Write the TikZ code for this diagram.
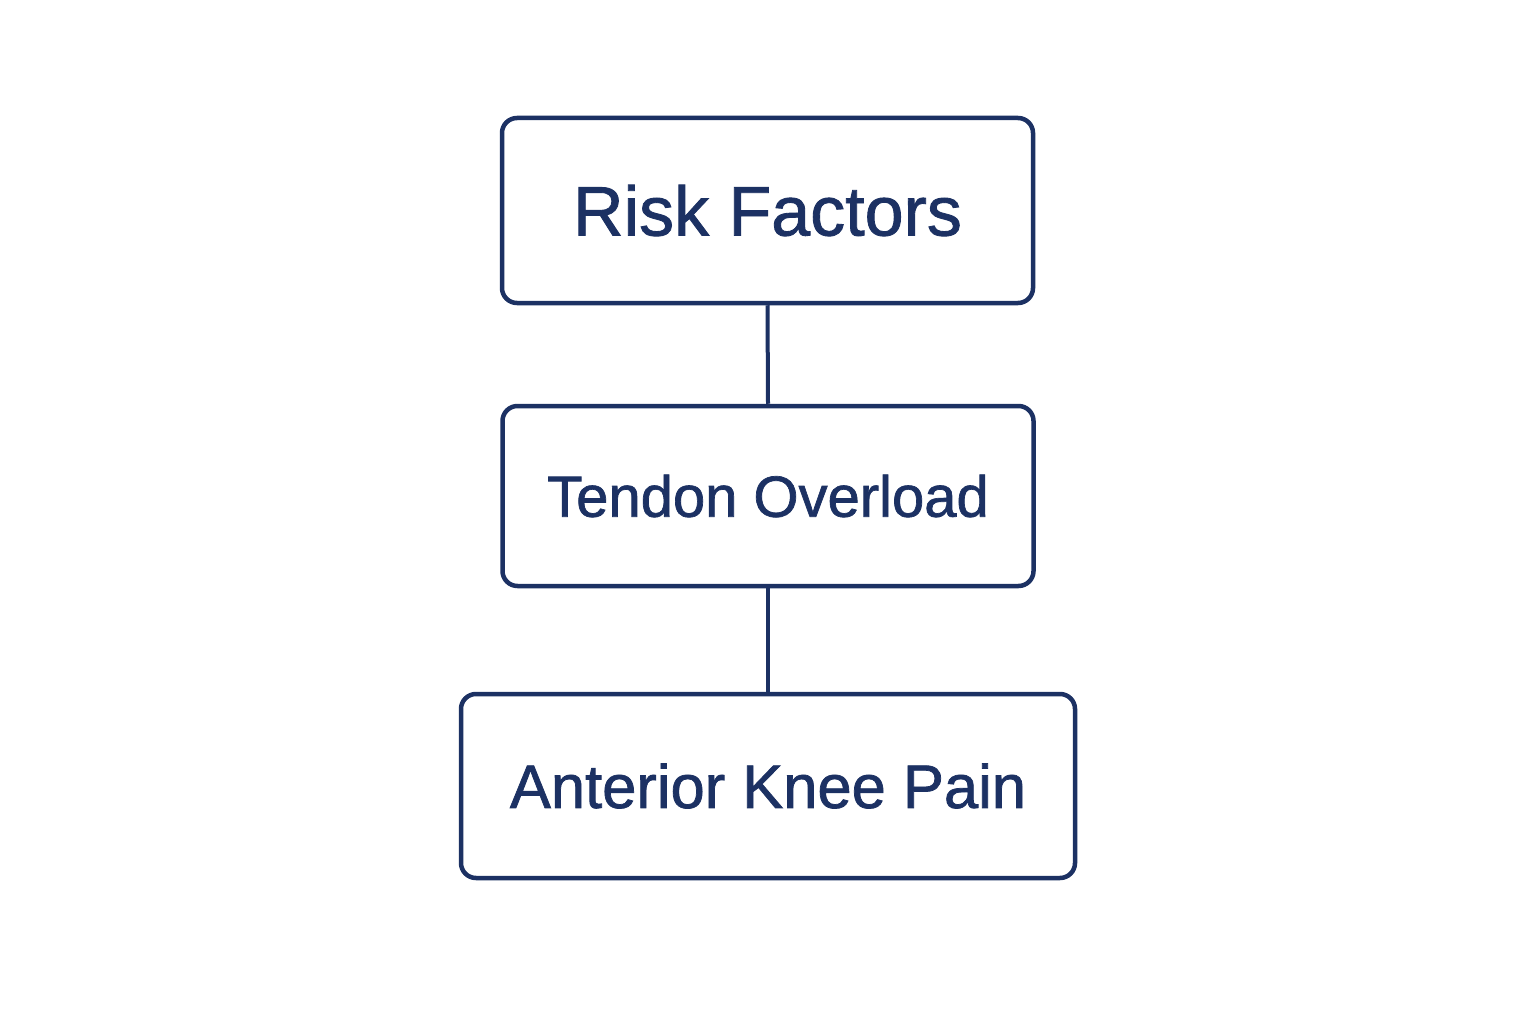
\documentclass[tikz,border=0pt]{standalone}
\usepackage{fontspec}
\setmainfont{Liberation Sans}
\newfontfamily\medfont[FakeBold=1.2]{Liberation Sans}
\definecolor{navy}{HTML}{1C3163}
\tikzset{
  box/.style={draw=navy, line width=4.5pt, rounded corners=15pt, text=navy, inner sep=0pt, align=center},
  link/.style={draw=navy, line width=4pt}
}
\begin{document}
\begin{tikzpicture}[x=1pt,y=-1pt]
\useasboundingbox[fill=white] (0,0) rectangle (1536,1024);
\node[box, minimum width=531pt, minimum height=185pt, font=\medfont\fontsize{70}{80}\selectfont] (rf) at (767.5,210.5) {Risk Factors};
\node[box, minimum width=531pt, minimum height=180pt, font=\medfont\fontsize{58}{66}\selectfont] (to) at (768,496) {Tendon Overload};
\node[box, minimum width=614pt, minimum height=184pt, font=\medfont\fontsize{61.5}{70}\selectfont] (ak) at (768,786) {Anterior Knee Pain};
\draw[link] (rf.south) -- (to.north);
\draw[link] (to.south) -- (ak.north);
\end{tikzpicture}
\end{document}
